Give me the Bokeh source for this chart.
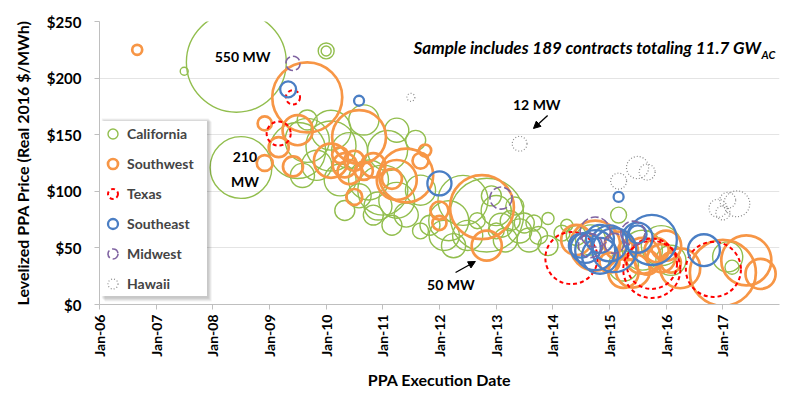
import numpy as np
import pandas as pd
from datetime import datetime, timedelta
from bokeh.plotting import figure
from bokeh.models import (ColumnDataSource, Range1d, FixedTicker, DatetimeTickFormatter,
                          NumeralTickFormatter, Label, Arrow, NormalHead, BoxAnnotation,
                          Legend, LegendItem)
from bokeh.embed import file_html
from bokeh.resources import INLINE

FONT = "Lato"

# ---------------- data (execution month, levelized price $/MWh, capacity MW) ----------------
ca_date = ["2007-07", "2008-06", "2008-07", "2010-01", "2010-01", "2009-07", "2009-09", "2010-02",
           "2010-02", "2010-06", "2009-11", "2009-08", "2010-04", "2010-10", "2011-01", "2011-04",
           "2010-12", "2011-06", "2011-03", "2010-11", "2010-08", "2011-09", "2010-09", "2011-02",
           "2011-04", "2011-08", "2010-05", "2009-09", "2011-09", "2012-11", "2012-06", "2012-03",
           "2012-07", "2013-01", "2013-02", "2013-04", "2012-12", "2012-09", "2013-01", "2013-06",
           "2013-07", "2013-08", "2013-10", "2013-12", "2014-03", "2013-12", "2012-04", "2012-02",
           "2014-09", "2015-03", "2015-08", "2015-12", "2016-02", "2017-02", "2017-03", "2015-04",
           "2014-06", "2013-03", "2013-09", "2013-05", "2014-04", "2011-11"]
ca_price = [206, 214, 121, 224, 224, 136, 145, 154, 140, 136, 123, 114, 110, 110, 101, 92,
            87, 79, 70, 79, 96, 101, 163, 136, 154, 145, 83, 163, 65, 79, 92, 74,
            61, 83, 70, 74, 96, 74, 65, 65, 72, 57, 61, 76, 63, 52, 52, 61,
            57, 79, 48, 52, 39, 42, 33, 34, 61, 57, 72, 87, 70, 70]
ca_mw = [3.5, 550, 210, 14, 5.5, 173, 107, 88, 138, 71, 50, 32, 56, 88, 138, 71,
         43, 32, 22, 22, 32, 50, 50, 88, 32, 22, 22, 22, 14, 300, 138, 88,
         50, 50, 32, 22, 22, 14, 14, 32, 22, 32, 18, 8, 14, 22, 32, 50,
         50, 14, 88, 88, 50, 50, 11, 50, 22, 32, 14, 18, 8, 22]

sw_date = ["2006-09", "2009-09", "2008-12", "2009-03", "2008-12", "2009-06", "2009-07", "2010-08",
           "2010-02", "2010-05", "2010-07", "2010-09", "2010-06", "2010-04", "2010-07", "2011-04",
           "2011-03", "2011-06", "2010-11", "2011-09", "2011-10", "2012-01", "2012-01", "2012-10",
           "2012-11", "2014-10", "2014-06", "2015-04", "2015-06", "2015-08", "2015-12", "2015-11",
           "2015-09", "2016-02", "2016-04", "2017-01", "2017-06", "2017-09", "2015-03", "2015-01",
           "2015-05", "2016-01"]
sw_price = [225, 183, 160, 139, 125, 122, 154, 148, 127, 123, 127, 118, 117, 132, 95, 110,
            111, 114, 123, 127, 136, 83, 72, 86, 52, 52, 57, 28, 30, 43, 41, 48,
            37, 37, 32, 28, 39, 27, 52, 37, 48, 52]
sw_mw = [5.5, 270, 11, 22, 14, 22, 50, 160, 64, 32, 22, 18, 32, 14, 14, 88,
         22, 160, 32, 14, 8, 18, 11, 225, 50, 138, 50, 50, 64, 71, 43, 32,
         32, 22, 88, 240, 138, 50, 43, 22, 22, 50]

tx_date = ["2009-06", "2009-03", "2014-05", "2015-10", "2015-10", "2016-11"]
tx_price = [183, 151, 41, 31, 36, 31]
tx_mw = [11, 32, 150, 180, 140, 167]

se_date = ["2009-05", "2010-08", "2012-01", "2015-03", "2014-10", "2015-01", "2014-08", "2014-11",
           "2014-07", "2015-07", "2015-10", "2015-07", "2016-09", "2015-02", "2014-11"]
se_price = [190, 180, 107, 95, 48, 54, 50, 43, 52, 59, 57, 62, 48, 48, 58]
se_mw = [14, 5.5, 32, 5.5, 88, 71, 50, 71, 32, 50, 138, 18, 56, 107, 43]

mw_date = ["2009-06", "2013-02", "2014-10", "2015-06", "2014-09", "2015-02"]
mw_price = [213, 94, 64, 63, 52, 54]
mw_mw = [11, 27, 50, 32, 32, 22]

hi_date = ["2011-07", "2013-06", "2015-03", "2015-07", "2015-09", "2016-12", "2017-02", "2017-04",
           "2017-01"]
hi_price = [183, 142, 109, 121, 117, 85, 92, 89, 81]
hi_mw = [3.5, 12, 14, 27, 14, 18, 14, 37, 11]

regions = ["California", "Southwest", "Texas", "Southeast", "Midwest", "Hawaii"]
series = {
    "California": (ca_date, ca_price, ca_mw),
    "Southwest": (sw_date, sw_price, sw_mw),
    "Texas": (tx_date, tx_price, tx_mw),
    "Southeast": (se_date, se_price, se_mw),
    "Midwest": (mw_date, mw_price, mw_mw),
    "Hawaii": (hi_date, hi_price, hi_mw),
}
styles = {
    "California": ("#92BE4E", 1.4, "solid"),
    "Southwest": ("#F79646", 2.7, "solid"),
    "Texas": ("#FF0000", 2.0, "4 3"),
    "Southeast": ("#4A7EC4", 2.3, "solid"),
    "Midwest": ("#8064A2", 1.6, "8 3"),
    "Hawaii": ("#8A8A8A", 1.2, "1 2"),
}

year_ticks = list(range(2006, 2018))
y_ticks = [0, 50, 100, 150, 200, 250]

START = datetime(2006, 1, 1)


def at_month(m):
    return START + timedelta(days=m * 365.25 / 12)


p = figure(frame_width=680, frame_height=283, x_axis_type="datetime", output_backend="svg",
           toolbar_location=None,
           x_range=Range1d(datetime(2006, 1, 1), datetime(2018, 1, 1)),
           y_range=Range1d(0, 250),
           min_border_left=99, min_border_right=15, min_border_top=21, min_border_bottom=90)
p.outline_line_color = None
p.background_fill_color = "white"

px_per_sqrt_mw = 4.26
items = []
for reg in regions:
    d, pr, mw = series[reg]
    src = ColumnDataSource(dict(
        x=pd.to_datetime([s + "-01" for s in d]),
        y=pr,
        size=px_per_sqrt_mw * np.sqrt(np.array(mw, dtype=float)),
    ))
    col, lw, dash = styles[reg]
    r = p.scatter("x", "y", size="size", source=src, marker="circle", fill_color=None,
                  line_color=col, line_width=lw, line_dash=dash)
    items.append(LegendItem(label=reg, renderers=[r]))

# axes
xa = p.xaxis[0]
xa.ticker = FixedTicker(ticks=[pd.Timestamp(f"{y}-01-01").value // 10**6 for y in year_ticks])
fmt = "%b-%y"
xa.formatter = DatetimeTickFormatter(milliseconds=fmt, seconds=fmt, minsec=fmt, minutes=fmt,
                                     hourmin=fmt, hours=fmt, days=fmt, months=fmt, years=fmt)
xa.major_label_orientation = np.pi / 2
xa.axis_label = "PPA Execution Date"
xa.axis_label_standoff = 10
xa.major_label_standoff = 5

ya = p.yaxis[0]
ya.ticker = FixedTicker(ticks=y_ticks)
ya.formatter = NumeralTickFormatter(format="$0")
ya.axis_label = "Levelized PPA Price (Real 2016 $/MWh)"
ya.axis_label_standoff = 12
ya.major_label_standoff = 13

for ax in (xa, ya):
    ax.axis_line_color = "#BFBFBF"
    ax.major_tick_line_color = "#BFBFBF"
    ax.minor_tick_line_color = None
    ax.major_tick_in = 0
    ax.major_tick_out = 5
    ax.major_label_text_font = FONT
    ax.major_label_text_font_style = "bold"
    ax.major_label_text_color = "black"
    ax.axis_label_text_font = FONT
    ax.axis_label_text_font_style = "bold"
    ax.axis_label_text_color = "black"
    ax.axis_label_text_font_size = "16px"
xa.major_label_text_font_size = "14px"
ya.major_label_text_font_size = "15px"

p.xgrid.grid_line_color = None
p.ygrid.ticker = FixedTicker(ticks=y_ticks)
p.ygrid.grid_line_color = "#E4E4E4"

# legend shadow (decoration)
for off, a in ((1, 0.06), (2, 0.06), (3, 0.06), (4, 0.05)):
    p.add_layout(BoxAnnotation(left=at_month((100 + off - 98.7) / 4.725),
                               right=at_month((207 + off - 98.7) / 4.725),
                               top=(304 - (117 + off)) / 1.132,
                               bottom=(304 - (297 + off)) / 1.132,
                               fill_color="black", fill_alpha=a, line_color=None))

legend = Legend(items=items, location=(1, 8))
legend.label_text_font = FONT
legend.label_text_font_style = "bold"
legend.label_text_font_size = "14px"
legend.glyph_width = 25
legend.glyph_height = 25
legend.label_height = 25
legend.label_width = 80
legend.spacing = 5
legend.padding = 3
legend.margin = 0
legend.label_standoff = 2
legend.border_line_color = None
legend.background_fill_color = "white"
legend.background_fill_alpha = 1.0
p.add_layout(legend)

# annotations


def lab(x, y, text, size="14px", align="center", style="bold", baseline="middle"):
    p.add_layout(Label(x=x, y=y, text=text, text_align=align, text_baseline=baseline,
                       text_font=FONT, text_font_style=style, text_font_size=size,
                       text_color="black"))


lab(at_month(30.3), 219, "550 MW")
lab(at_month(30.8), 130, "210")
lab(at_month(30.8), 109, "MW")
lab(at_month(92.6), 177, "12 MW")
lab(at_month(74.4), 17.5, "50 MW")
lab(at_month(140.1), 227, "Sample includes 189 contracts totaling 11.7 GW", size="17px",
    align="right", style="bold italic")
lab(at_month(140.2), 220.5, "AC", size="11px", align="left", style="bold italic")

for (x0, y0, x1, y1) in ((94.9, 167, 91.9, 155.5), (75.4, 28.3, 79.6, 38.0)):
    p.add_layout(Arrow(end=NormalHead(size=7, fill_color="black", line_color="black"),
                       x_start=at_month(x0), y_start=y0, x_end=at_month(x1), y_end=y1,
                       line_color="black", line_width=1.3))

open("out.html", "w").write(file_html(p, INLINE))
